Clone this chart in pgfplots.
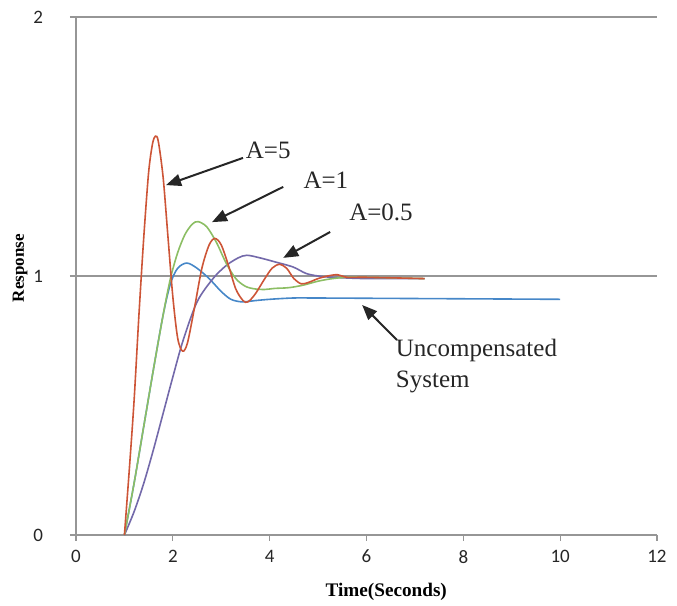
\documentclass[border=0pt]{standalone}
\usepackage{fontspec}
\setmainfont{Liberation Serif}
\newfontfamily\tickfont{Carlito}
\usepackage{pgfplots}
\pgfplotsset{compat=1.18}
\usetikzlibrary{arrows.meta}
\definecolor{cred}{RGB}{205,85,55}
\definecolor{cgreen}{RGB}{140,190,100}
\definecolor{cpurple}{RGB}{115,105,170}
\definecolor{cblue}{RGB}{70,135,200}
\definecolor{cgrid}{RGB}{150,150,150}
\begin{document}
\begin{tikzpicture}
\begin{axis}[
  scale only axis, width=290.5pt, height=259pt,
  xmin=0, xmax=12, ymin=0, ymax=2,
  axis lines*=left,
  xtick={0,2,...,12}, ytick={0,1,2},
  ymajorgrids, grid style={cgrid, line width=0.6pt},
  axis line style={cgrid, line width=0.6pt},
  tick style={cgrid, line width=0.6pt},
  tick align=outside, major tick length=3pt,
  /pgf/number format/assume math mode=true,
  ticklabel style={font=\tickfont\fontsize{9.5}{11}\selectfont, text=black!85},
  yticklabel style={xshift=-10pt},
  xticklabel style={yshift=-1pt},
  xlabel={Time(Seconds)}, ylabel={Response},
  xlabel style={font=\bfseries\fontsize{9.6}{11}\selectfont, at={(axis description cs:0.534,-0.11)}, anchor=center},
  ylabel style={font=\bfseries\fontsize{8.5}{10}\selectfont, at={(axis description cs:-0.096,0.515)}, anchor=center, rotate=0},
  clip=false,
  every axis plot/.append style={line width=0.8pt, smooth, tension=0.5}
]
\addplot[cblue] coordinates {(1,0) (1.2,0.2) (1.4,0.42) (1.6,0.64) (1.8,0.85) (1.95,0.97) (2.1,1.03) (2.29,1.05) (2.5,1.03) (2.75,0.99) (3.0,0.94) (3.2,0.91) (3.43,0.9) (3.7,0.905) (4.0,0.91) (4.48,0.915) (5,0.915) (7,0.913) (10,0.91)};
\addplot[cpurple] coordinates {(1,0) (1.2,0.09) (1.4,0.2) (1.6,0.33) (1.8,0.47) (2.0,0.61) (2.21,0.75) (2.5,0.9) (2.83,0.99) (3.1,1.04) (3.35,1.07) (3.53,1.08) (3.8,1.07) (4.1,1.055) (4.48,1.035) (4.75,1.01) (5.0,1.0) (5.3,0.995) (6,0.99) (7.2,0.99)};
\addplot[cgreen] coordinates {(1,0) (1.2,0.2) (1.4,0.42) (1.6,0.64) (1.8,0.85) (1.95,0.99) (2.1,1.09) (2.25,1.16) (2.4,1.2) (2.52,1.21) (2.7,1.19) (2.9,1.13) (3.1,1.05) (3.3,0.99) (3.5,0.96) (3.7,0.95) (3.9,0.948) (4.1,0.952) (4.4,0.955) (4.7,0.965) (5.0,0.98) (5.3,0.99) (5.6,0.995) (6.0,0.995) (7.2,0.99)};
\addplot[cred] coordinates {(1,0) (1.1,0.25) (1.2,0.52) (1.3,0.85) (1.4,1.15) (1.5,1.4) (1.58,1.51) (1.64,1.54) (1.7,1.52) (1.8,1.38) (1.9,1.15) (2.0,0.92) (2.1,0.76) (2.2,0.71) (2.3,0.74) (2.45,0.88) (2.6,1.03) (2.75,1.12) (2.87,1.145) (3.0,1.12) (3.15,1.04) (3.3,0.95) (3.45,0.905) (3.55,0.90) (3.7,0.93) (3.9,0.99) (4.05,1.03) (4.2,1.045) (4.35,1.03) (4.5,0.99) (4.65,0.97) (4.8,0.975) (5.0,0.99) (5.2,1.0) (5.4,1.005) (5.6,0.995) (6.0,0.995) (7.2,0.99)};
\begin{scope}[line width=1pt, -{Triangle[length=7.5pt,width=6pt]}, black!85]
\draw (axis cs:3.45,1.456) -- (axis cs:1.86,1.351);
\draw (axis cs:4.28,1.344) -- (axis cs:2.81,1.208);
\draw (axis cs:5.25,1.17) -- (axis cs:4.28,1.07);
\draw (axis cs:6.63,0.753) -- (axis cs:5.91,0.888);
\end{scope}
\begin{scope}[font=\fontsize{12.5}{15}\selectfont, text=black!85]
\node at (axis cs:3.97,1.486) {A=5};
\node at (axis cs:5.16,1.37) {A=1};
\node at (axis cs:6.3,1.247) {A=0.5};
\node[anchor=west, inner sep=0pt] at (axis cs:6.6,0.714) {Uncompensated};
\node[anchor=west, inner sep=0pt] at (axis cs:6.6,0.59) {System};
\end{scope}
\end{axis}
\pgfresetboundingbox
\path (current axis.south west) ++(-38pt,-35.5pt) rectangle ++(338.5pt,303pt);
\end{tikzpicture}
\end{document}
